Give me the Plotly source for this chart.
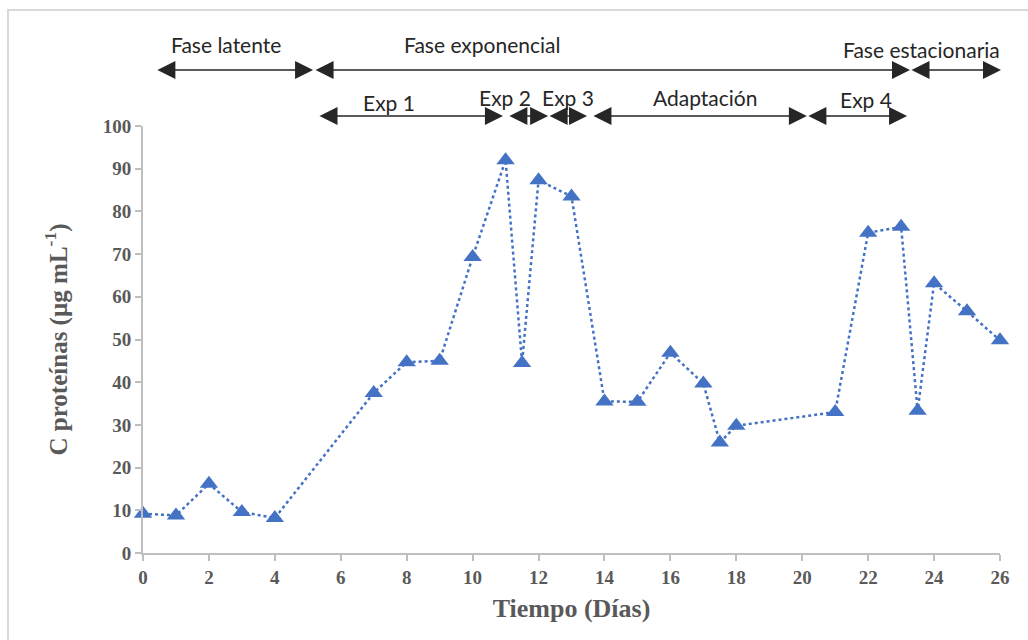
import plotly.graph_objects as go

# Data
dias = [0, 1, 2, 3, 4, 7, 8, 9, 10, 11, 11.5, 12, 13, 14, 15, 16, 17, 17.5, 18, 21, 22, 23, 23.5, 24, 25, 26]
proteinas = [9.2, 8.8, 16.2, 9.6, 8.2, 37.5, 44.7, 45.0, 69.3, 92.0, 44.5, 87.3, 83.5, 35.5, 35.4, 46.9, 39.7, 25.9, 29.8, 33.0, 75.0, 76.4, 33.3, 63.2, 56.6, 49.8]

x_ticks = list(range(0, 27, 2))
y_ticks = list(range(0, 101, 10))

# Phase annotations: (label, start day, end day, label day, label height, arrow height) heights in paper units
fases = [
    ("Fase latente", 0.39, 5.16, 2.52, 1.192, 1.131),
    ("Fase exponencial", 5.19, 23.27, 10.29, 1.192, 1.131),
    ("Fase estacionaria", 23.27, 26.03, 23.63, 1.180, 1.131),
    ("Exp 1", 5.31, 10.92, 7.46, 1.054, 1.0234),
    ("Exp 2", 11.07, 12.29, 10.98, 1.0656, 1.0234),
    ("Exp 3", 12.29, 13.47, 12.89, 1.0656, 1.0234),
    ("Adaptación", 13.62, 20.14, 17.05, 1.0656, 1.0234),
    ("Exp 4", 20.14, 23.18, 21.93, 1.0609, 1.0234),
]

blue = "#4472C4"
grey_text = "#595959"
axis_grey = "#BFBFBF"

fig = go.Figure()
fig.add_trace(go.Scatter(
    x=dias, y=proteinas, mode="lines+markers",
    line=dict(color=blue, width=2.5, dash="dot"),
    marker=dict(symbol="triangle-up", size=16, color=blue),
    cliponaxis=False, showlegend=False,
))

annotations = []
for label, x0, x1, lx, ly, ay in fases:
    annotations.append(dict(
        x=x1, y=ay, ax=x0, ay=0, xref="x", yref="paper", axref="x", ayref="pixel",
        text="", showarrow=True, arrowhead=2, startarrowhead=2,
        arrowside="end+start", arrowsize=2.4, startarrowsize=2.4,
        arrowwidth=1.5, arrowcolor="#262626",
    ))
    annotations.append(dict(
        x=lx, y=ly, xref="x", yref="paper", text=label, showarrow=False,
        font=dict(family="Lato", size=21, color="#262626"),
        xanchor="center", yanchor="middle",
    ))

fig.update_layout(
    width=1028, height=640,
    margin=dict(l=143, r=28, t=126, b=87),
    paper_bgcolor="white", plot_bgcolor="white",
    annotations=annotations,
    shapes=[dict(
        type="rect", xref="paper", yref="paper",
        x0=-0.1575, x1=1.05, y0=-0.25, y1=1.2717,
        line=dict(color="#D9D9D9", width=2), fillcolor="rgba(0,0,0,0)",
    )],
    xaxis=dict(
        range=[0, 26], tickvals=x_ticks, ticktext=[str(v) for v in x_ticks],
        showgrid=False, zeroline=False, showline=True, linecolor=axis_grey, linewidth=2,
        ticks="outside", ticklen=6, tickwidth=1.5, tickcolor=axis_grey,
        tickfont=dict(family="Liberation Serif", size=19, color=grey_text, weight="bold"),
        title=dict(text="<b>Tiempo (Días)</b>", standoff=12,
                   font=dict(family="Liberation Serif", size=26, color=grey_text)),
    ),
    yaxis=dict(
        range=[0, 100], tickvals=y_ticks, ticktext=[str(v) for v in y_ticks],
        showgrid=False, zeroline=False, showline=True, linecolor=axis_grey, linewidth=2,
        ticks="outside", ticklen=6, tickwidth=1.5, tickcolor=axis_grey,
        tickfont=dict(family="Liberation Serif", size=19, color=grey_text, weight="bold"),
        title=dict(text="<b>C proteínas (µg mL<sup>-1</sup>)</b>", standoff=28,
                   font=dict(family="Liberation Serif", size=25, color=grey_text)),
    ),
)

fig.write_html("out.html")
